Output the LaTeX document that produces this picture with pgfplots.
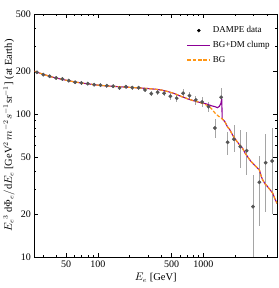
\documentclass[border=0pt]{standalone}
\usepackage{pgfplots}
\pgfplotsset{compat=1.18}
\usepackage{pgfplotstable}
\usepackage{fontspec}
\setmainfont{Liberation Serif}
\definecolor{bgorange}{RGB}{255,150,20}
\definecolor{dmpurple}{RGB}{140,0,150}
\definecolor{ptgray}{RGB}{85,85,85}
\definecolor{bargray}{RGB}{165,165,165}
\pgfplotsset{
  purplelegend/.style={legend image code/.code={\draw[dmpurple, line width=1.1pt] (0cm,0cm) -- (0.8cm,0cm);}},
  orangelegend/.style={legend image code/.code={\draw[bgorange, line width=1.2pt, dash pattern=on 3.5pt off 1.8pt] (0cm,0cm) -- (0.8cm,0cm);}},
  dotlegend/.style={legend image code/.code={\fill[black] (0.4cm,0cm) circle (1.5pt);}},
}

\pgfplotstableread{
x y ep em
26.4 195.7 4.9 4.9
30.3 188.3 4.7 4.7
34.8 183.5 4.6 4.6
40.0 178.5 4.5 4.5
45.9 175.7 4.4 4.4
52.8 171.0 4.3 4.3
60.7 166.6 4.2 4.2
69.7 164.8 4.1 4.1
80.1 162.9 4.1 4.1
92.0 160.3 4.0 4.0
105.7 158.8 4.8 4.8
121.4 157.7 4.7 4.7
139.5 156.2 4.7 4.7
160.3 152.0 4.6 4.6
184.1 155.2 4.7 4.7
211.6 152.7 4.6 4.6
243.1 152.7 5.3 5.3
279.3 147.2 5.2 5.2
320.9 138.7 4.9 4.9
368.7 141.8 5.0 5.0
423.6 139.6 6.0 6.0
486.7 133.0 7.0 7.0
559.2 128.8 7.0 7.0
642.5 139.6 9.0 9.0
738.2 134.3 9.0 9.0
848.2 125.3 9.0 9.0
974.5 121.3 10.0 10.0
1119.6 112.5 9.6 8.8
1286 79.8 12 12
1478 130.9 22 15
1698 63.4 12 12
1951 66.6 17 12
2242 59.1 18 17
2576 55.4 19 18
2959 22.5 15 14.5
3400 33.3 17.5 16.7
3906 45.6 27 25
4488 46.9 33 27
}\dampe

\pgfplotstableread{
x y
25 199
28 193
32 187
36 182
40 178.5
45 175
50 172
60 167.5
70 164.5
80 162.5
100 159
130 156.5
160 155
200 153.5
250 152
300 150.5
350 149
400 147
460 143.5
530 139
611 133
700 128
800 124
900 121
950 119.5
1000 118
1070 115.5
1137 112.5
1200 108.5
1290 101.5
1390 96.5
1488 93.3
1601 88.3
1700 81
1767 78.5
1900 71
2036 65.8
2200 61
2357 57.5
2500 53
2633 50.2
2800 47
3053 44.0
3250 42
3404 40.6
3550 36.5
3665 34.5
3850 32.5
4077 31
4300 29.5
4553 27.9
4800 25.3
5000 23.7
}\bg

\pgfplotstableread{
x y
25 199
28 193
32 187
36 182
40 178.5
45 175
50 172
60 167.5
70 164.5
80 162.5
100 159
130 156.5
160 155
200 153.5
250 152
300 150.5
350 149
400 147
460 143.5
530 139
611 133
700 128
800 124
900 121
950 120
1000 119
1070 117.5
1137 115.6
1200 114
1290 112.5
1360 110.7
1420 113
1470 119
1495 128
1510 92.5
1601 88.3
1700 81
1767 78.5
1900 71
2036 65.8
2200 61
2357 57.5
2500 53
2633 50.2
2800 47
3053 44.0
3250 42
3404 40.6
3550 36.5
3665 34.5
3850 32.5
4077 31
4300 29.5
4553 27.9
4800 25.3
5000 23.7
}\bgdm

\begin{document}
\begin{tikzpicture}
\begin{axis}[
  scale only axis,
  width=242.5pt, height=243pt,
  xmode=log, ymode=log,
  xmin=25, xmax=5000, ymin=10, ymax=500,
  xtick={50,100,500,1000},
  xticklabels={50,100,500,1000},
  minor xtick={30,40,60,70,80,90,200,300,400,600,700,800,900,2000,3000,4000},
  ytick={10,20,50,100,200,500},
  yticklabels={10,20,50,100,200,500},
  minor ytick={30,40,60,70,80,90,300,400},
  tick align=inside,
  major tick length=4pt, minor tick length=2pt,
  tick style={black, line width=0.4pt},
  axis line style={line width=0.8pt},
  ticklabel style={font=\fontsize{10}{11}\selectfont},
  xlabel={$E_e$ [GeV]},
  ylabel={$E_e{}^3\,\mathrm{d}\Phi_e/\mathrm{d}E_e$ [GeV$^2$\,$m^{-2}s^{-1}$sr$^{-1}$] (at Earth)},
  label style={font=\fontsize{10.5}{12}\selectfont},
  xlabel style={yshift=1pt},
  ylabel style={yshift=-5.5pt},
  legend style={draw=none, fill=none, at={(rel axis cs:0.615,0.965)}, anchor=north west,
    font=\fontsize{9}{10}\selectfont, row sep=3pt},
  legend cell align=left,
]
\addplot[forget plot, only marks, mark=*, mark size=1.7pt, ptgray,
  error bars/.cd, y dir=both, y explicit, error mark=none,
  error bar style={bargray, line width=0.7pt}]
  table[x=x, y=y, y error plus=ep, y error minus=em] {\dampe};
\addlegendimage{dotlegend}
\addlegendentry{DAMPE data}
\addplot[dmpurple, line width=1.1pt, purplelegend] table[x=x, y=y] {\bgdm};
\addlegendentry{BG+DM clump}
\addplot[bgorange, line width=1.2pt, dash pattern=on 3.5pt off 1.8pt, orangelegend] table[x=x, y=y] {\bg};
\addlegendentry{BG}
\end{axis}
\pgfresetboundingbox
\path[use as bounding box] (current axis.south west) ++(-34.5pt,-31pt) rectangle ++(278pt,288pt);
\end{tikzpicture}
\end{document}
